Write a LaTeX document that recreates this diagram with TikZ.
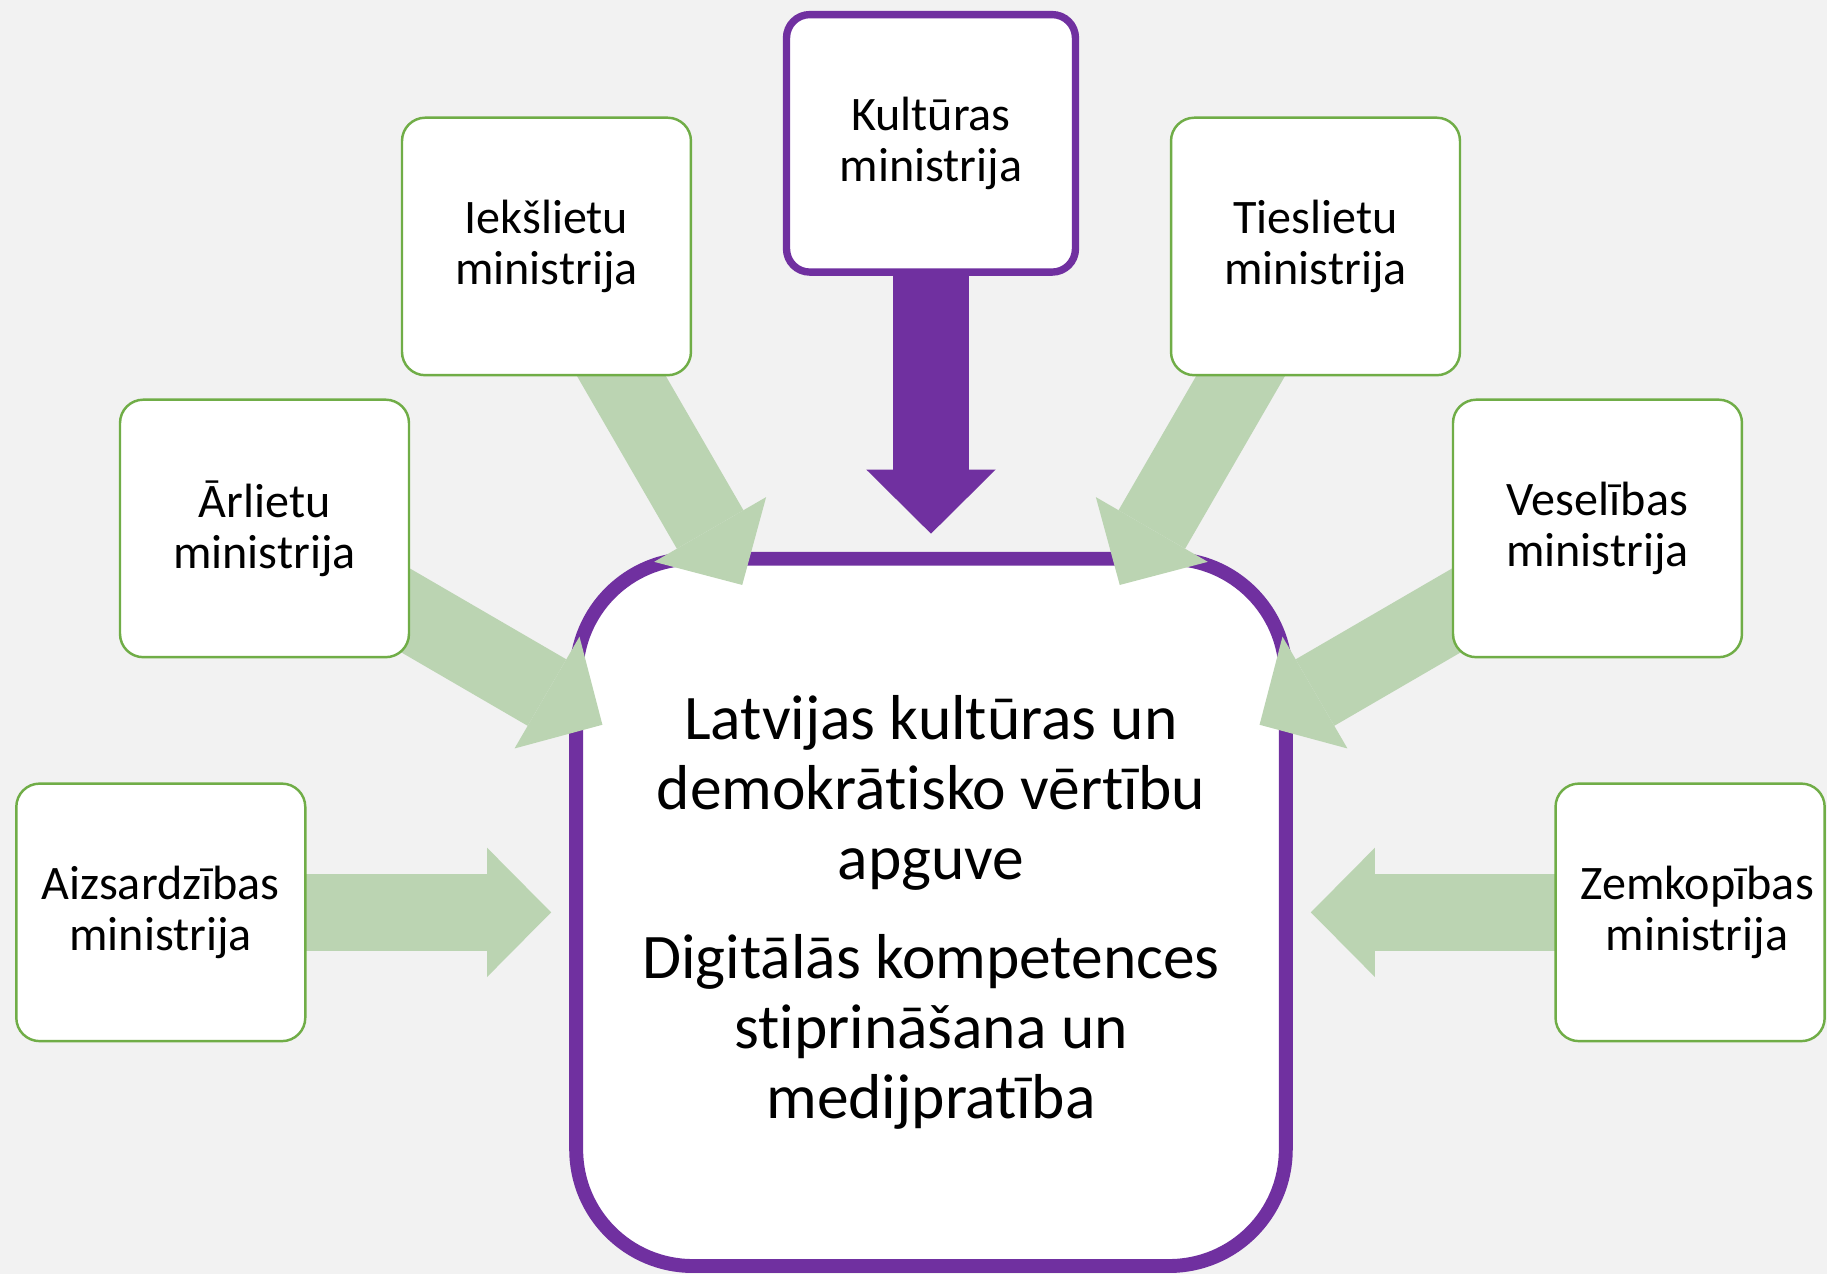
\documentclass[tikz,border=0pt]{standalone}
\usepackage{fontspec}
\setmainfont{Carlito}[Ligatures={NoCommon}]
\usetikzlibrary{arrows.meta}
\pgfdeclarelayer{bg}
\pgfdeclarelayer{flow}
\pgfsetlayers{bg,flow,main}
\definecolor{purp}{RGB}{112,48,160}
\definecolor{leaf}{RGB}{112,173,71}
\definecolor{pale}{RGB}{187,212,178}
\definecolor{paper}{RGB}{242,242,242}
\tikzset{
  ministry/.style={draw=leaf, line width=0.6pt, fill=white, rounded corners=0.2cm,
    minimum width=2.48cm, minimum height=2.21cm, align=center, inner sep=0pt,
    font=\fontsize{11.75}{12.5}\selectfont},
  lead/.style={ministry, draw=purp, line width=1.8pt},
  goalbox/.style={draw=purp, line width=3.4pt, fill=white, rounded corners=1cm,
    minimum width=6.09cm, minimum height=6.07cm, align=center, inner sep=0pt,
    font=\fontsize{15.5}{17.1}\selectfont},
  feed/.style={draw=pale, line width=0.66cm,
    -{Triangle[width=1.11cm,length=0.55cm,line width=0pt]}}
}
\begin{document}
\begin{tikzpicture}[y=-1cm]
        \useasboundingbox (0,0) rectangle (15.68,10.93);
        \begin{pgfonlayer}{bg}
          \fill[paper] (0,0) rectangle (15.68,10.93);
          \node[goalbox] (goal) at (7.99,7.83) {Latvijas kultūras un\\demokrātisko vērtību\\apguve\\[0.25cm]Digitālās kompetences\\stiprināšana un\\medijpratība};
        \end{pgfonlayer}
        % ministries
        \node[lead] (kult) at (7.99,1.23) {Kultūras\\ministrija};
        \node[ministry] (ieksl) at (4.69,2.115) {Iekšlietu\\ministrija};
        \node[ministry] (tiesl) at (11.29,2.115) {Tieslietu\\ministrija};
        \node[ministry] (arl) at (2.27,4.535) {Ārlietu\\ministrija};
        \node[ministry] (vesel) at (13.71,4.535) {Veselības\\ministrija};
        \node[ministry] (aizs) at (1.38,7.83) {Aizsardzības\\ministrija};
        \node[ministry, minimum width=2.31cm] (zemk) at (14.505,7.83) {\hspace{0.12cm}Zemkopības\\\hspace{0.12cm}ministrija};
        % arrow tips
        \coordinate (kult tip) at (7.99,4.58);
        \coordinate (ieksl tip) at (6.37,5.02);
        \coordinate (tiesl tip) at (9.61,5.02);
        \coordinate (arl tip) at (5.17,6.22);
        \coordinate (vesel tip) at (10.81,6.22);
        \coordinate (aizs tip) at (4.73,7.83);
        \coordinate (zemk tip) at (11.25,7.83);
        \begin{pgfonlayer}{flow}
          \foreach \m in {ieksl,tiesl,arl,vesel,aizs,zemk}{
            \draw[feed] (\m.center) -- (\m\space tip);
          }
          \draw[feed, draw=purp] (kult.center) -- (kult tip);
        \end{pgfonlayer}
      \end{tikzpicture}
\end{document}
